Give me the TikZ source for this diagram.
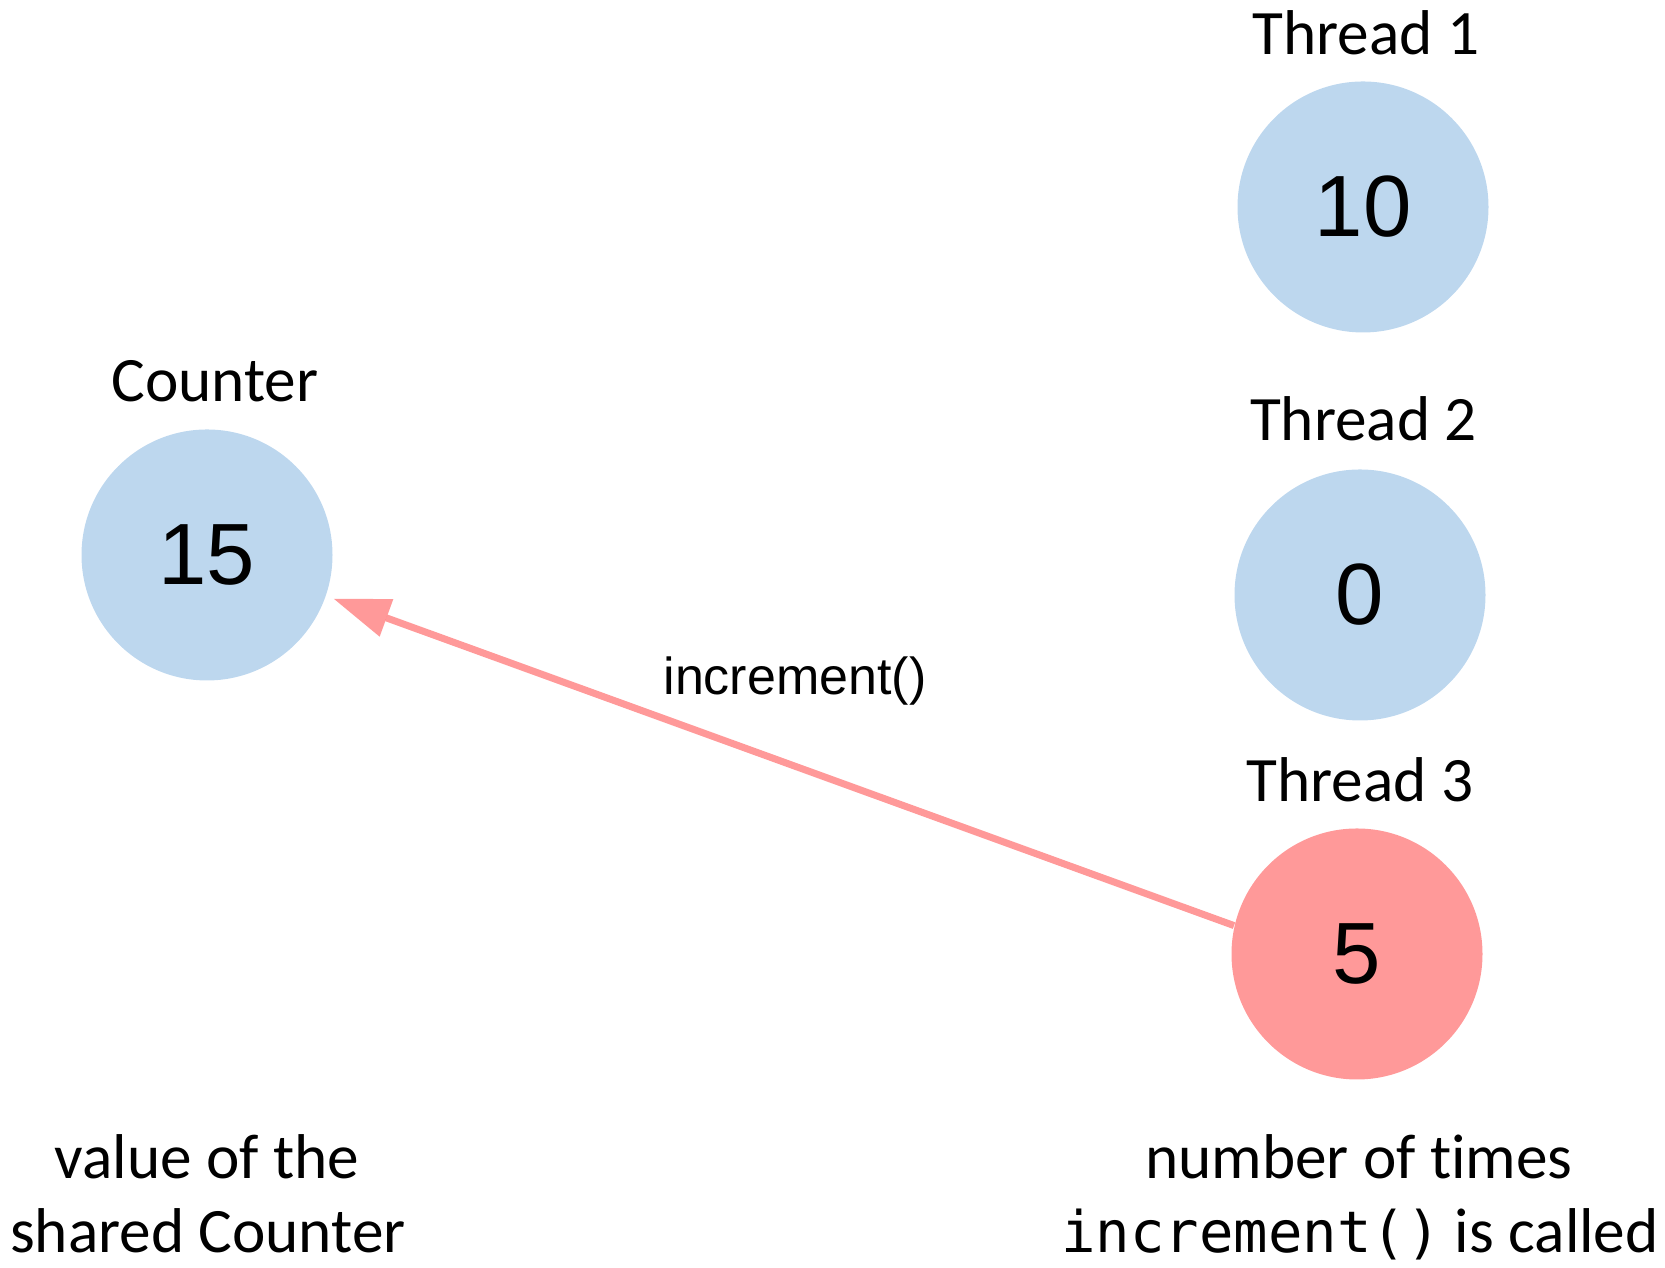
\documentclass[tikz,border=0pt]{standalone}
\usepackage{fontspec}
\setmainfont{Carlito}[Ligatures=NoCommon]
\newfontfamily\numfont{Liberation Sans}
\newfontfamily\codefont{DejaVu Sans Mono}
\usetikzlibrary{arrows.meta}
\definecolor{threadblue}{HTML}{BDD7EE}
\definecolor{activered}{HTML}{FF9999}

\begin{document}
\begin{tikzpicture}[
  valuedot/.style={circle, fill=threadblue, minimum size=2.51cm, inner sep=0pt,
    font=\numfont\fontsize{24.75pt}{30pt}\selectfont},
  caption/.style={anchor=base, inner sep=0pt, font=\fontsize{18pt}{22pt}\selectfont},
  calllabel/.style={anchor=base, inner sep=0pt, font=\numfont\fontsize{14.8pt}{18pt}\selectfont},
  call/.style={draw=red, opacity=0.4, line width=0.07cm,
    -{Triangle[length=0.56cm, width=0.40cm, line width=0pt]}, shorten >=0.08cm}
]
\useasboundingbox (0,0) rectangle (16.65,12.68);

% value circles
\node[valuedot] (counter) at (2.07,7.13) {15};
\node[valuedot] (t1) at (13.63,10.61) {10};
\node[valuedot] (t2) at (13.60,6.73) {0};
\node[valuedot, fill=activered] (t3) at (13.57,3.14) {5};

% titles above the circles
\node[caption] (counterlbl) at (2.15,8.66) {Counter};
\node[caption] (t1lbl) at (13.66,12.13) {Thread 1};
\node[caption] (t2lbl) at (13.635,8.27) {Thread 2};
\node[caption] (t3lbl) at (13.60,4.66) {Thread 3};

% the call from thread 3 into the shared counter
\draw[call] (t3.167.9) -- (counter.-19.2);
\node[calllabel] (calltxt) at (7.95,5.73) {increment()};

% explanations at the bottom
\node[caption] (valA) at (2.07,0.89) {value of the};
\node[caption] (valB) at (2.08,0.15) {shared Counter};
\node[caption] (cntA) at (13.59,0.89) {number of times};
\node[caption] (cntB) at (13.60,0.15) {{\codefont\fontsize{16.3pt}{20pt}\selectfont increment()} is called};
\end{tikzpicture}
\end{document}
